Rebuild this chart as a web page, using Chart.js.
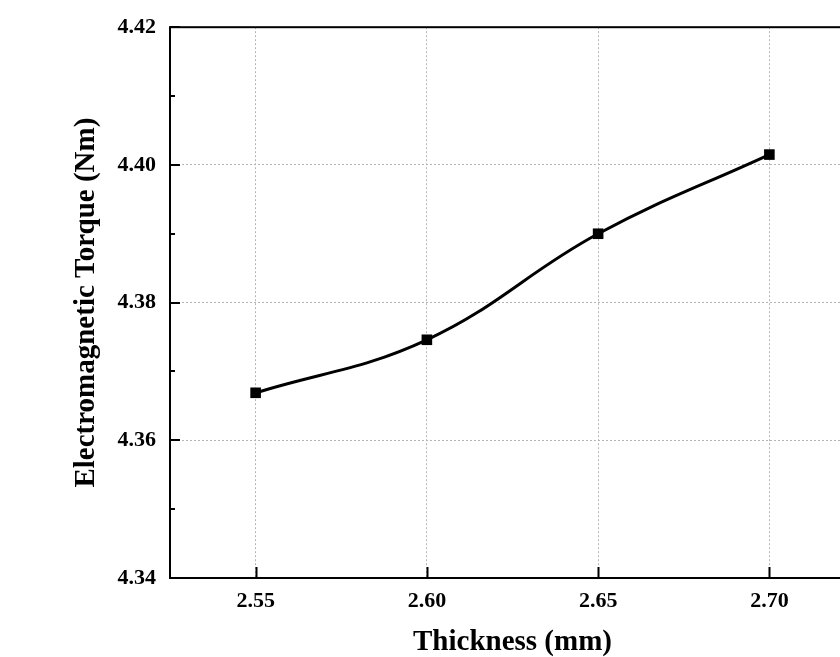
<!DOCTYPE html>
<html>
<head>
<meta charset="utf-8">
<script src="https://cdn.jsdelivr.net/npm/chart.js@4/dist/chart.umd.min.js"></script>
<style>
  html, body { margin: 0; padding: 0; background: #fff; overflow: hidden; }
  canvas { display: block; }
</style>
</head>
<body>
<canvas id="myChart" width="900" height="657"></canvas>
<script>
// data
const thickness = [2.55, 2.60, 2.65, 2.70];
const torque = [4.3669, 4.3746, 4.3900, 4.4015];
const xTicks = [2.55, 2.60, 2.65, 2.70];
const xRange = [2.525, 2.725];
const yRange = [4.34, 4.42];

const serif = '"Liberation Serif", "Times New Roman", serif';

// inward tick marks + frame, drawn from the chart's own scales
const frameTicks = {
    id: 'frameTicks',
    afterDraw(chart) {
        const ctx = chart.ctx;
        const area = chart.chartArea;
        const xs = chart.scales.x;
        const ys = chart.scales.y;
        ctx.save();
        ctx.strokeStyle = '#000';
        ctx.lineWidth = 2;
        ctx.beginPath();
        xs.ticks.forEach(function(t) {
            const px = Math.round(xs.getPixelForValue(t.value)) + 0.5;
            ctx.moveTo(px, area.bottom);
            ctx.lineTo(px, area.bottom - 11);
        });
        const yt = ys.ticks.map(t => t.value);
        yt.forEach(function(v, i) {
            const py = Math.round(ys.getPixelForValue(v));
            ctx.moveTo(area.left, py);
            ctx.lineTo(area.left + 10, py);
            if (i < yt.length - 1) {
                const pm = Math.round(ys.getPixelForValue((v + yt[i + 1]) / 2));
                ctx.moveTo(area.left, pm);
                ctx.lineTo(area.left + 5, pm);
            }
        });
        ctx.stroke();
        ctx.strokeRect(area.left, area.top, area.right - area.left, area.bottom - area.top);
        ctx.restore();
    }
};

const ctx = document.getElementById('myChart');
new Chart(ctx, {
    type: 'line',
    data: {
        datasets: [{
            data: thickness.map((x, i) => ({ x: x, y: torque[i] })),
            borderColor: '#000',
            backgroundColor: '#000',
            borderWidth: 3,
            tension: 0.4,
            pointStyle: 'rect',
            pointRadius: 7.5,
            pointBorderWidth: 0,
            clip: false
        }]
    },
    options: {
        responsive: false,
        animation: false,
        layout: { padding: { left: 0, top: 25, right: 45, bottom: 0 } },
        plugins: { legend: { display: false }, tooltip: { enabled: false } },
        scales: {
            x: {
                type: 'linear',
                min: xRange[0],
                max: xRange[1],
                afterFit(scale) { scale.height = 79; },
                afterBuildTicks(scale) { scale.ticks = xTicks.map(v => ({ value: v })); },
                ticks: {
                    padding: 10,
                    color: '#000',
                    font: { family: serif, size: 22, weight: 'bold' },
                    callback: v => v.toFixed(2)
                },
                grid: { color: '#b4b4b4', lineWidth: 1, drawTicks: false },
                border: { display: false, dash: [2, 2] },
                title: {
                    display: true,
                    text: 'Thickness (mm)',
                    color: '#000',
                    font: { family: serif, size: 29, weight: 'bold', lineHeight: 1 },
                    padding: { top: 0, bottom: 0 }
                }
            },
            y: {
                min: yRange[0],
                max: yRange[1],
                afterFit(scale) { scale.width = 170; },
                ticks: {
                    stepSize: 0.02,
                    padding: 14,
                    color: '#000',
                    font: { family: serif, size: 22, weight: 'bold' },
                    callback: v => v.toFixed(2)
                },
                grid: { color: '#b4b4b4', lineWidth: 1, drawTicks: false },
                border: { display: false, dash: [2, 2] },
                title: {
                    display: true,
                    text: 'Electromagnetic Torque (Nm)',
                    color: '#000',
                    font: { family: serif, size: 29, weight: 'bold', lineHeight: 1 },
                    padding: { top: 72, bottom: 0 }
                }
            }
        }
    },
    plugins: [frameTicks]
});
</script>
</body>
</html>
